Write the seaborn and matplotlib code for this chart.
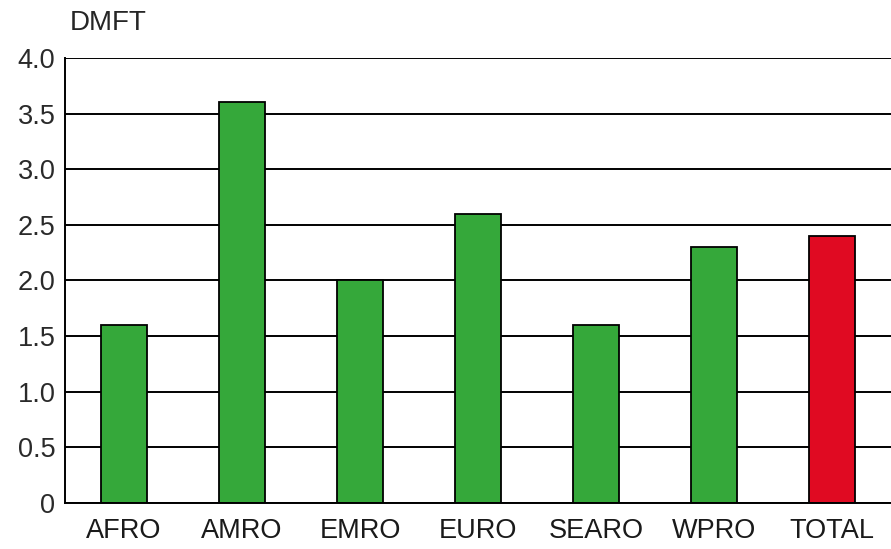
import numpy as np
import pandas as pd
import matplotlib
matplotlib.use("Agg")
import matplotlib.pyplot as plt
import seaborn as sns

# Dữ liệu
regions = ["AFRO", "AMRO", "EMRO", "EURO", "SEARO", "WPRO", "TOTAL"]
dmft = [1.6, 3.6, 2.0, 2.6, 1.6, 2.3, 2.4]
bar_colors = ["#35A83A"] * 6 + ["#E00A22"]
y_ticks = [0, 0.5, 1.0, 1.5, 2.0, 2.5, 3.0, 3.5, 4.0]
y_labels = ["0", "0.5", "1.0", "1.5", "2.0", "2.5", "3.0", "3.5", "4.0"]

df = pd.DataFrame({"Region": regions, "DMFT": dmft})

sns.set_style("white")
plt.rcParams["font.family"] = ["Liberation Sans", "DejaVu Sans"]

fig = plt.figure(figsize=(8.91, 5.49), dpi=100)
ax = fig.add_axes([0.073, 0.0838, 0.927, 0.8106])

ax.set_axisbelow(True)
for y in y_ticks:
    ax.axhline(y, color="black", lw=1.4, zorder=0)

sns.barplot(data=df, x="Region", y="DMFT", hue="Region", palette=bar_colors,
            legend=False, width=0.39, edgecolor="black", linewidth=1.3,
            saturation=1, ax=ax, zorder=2)

ax.set_xlim(-0.5, 6.5)
ax.set_ylim(0, 4.0)
ax.set_yticks(y_ticks)
ax.set_yticklabels(y_labels, fontsize=19.5, color="#2a2a2a")
ax.set_xticks(range(len(regions)))
ax.set_xticklabels(regions, fontsize=19.5, color="#1a1a1a")
ax.set_xticks(np.arange(-0.5, 6.6, 1), minor=True)
ax.tick_params(axis="x", which="major", length=0, pad=11)
ax.tick_params(axis="x", which="minor", length=8, width=1.4, color="black", direction="out")
ax.tick_params(axis="y", length=6, width=1.4, color="black", direction="out", pad=1)
ax.set_xlabel("")
ax.set_ylabel("")

for side in ["top", "right"]:
    ax.spines[side].set_visible(False)
for side in ["left", "bottom"]:
    ax.spines[side].set_color("black")
    ax.spines[side].set_linewidth(1.4)

fig.text(0.078, 0.958, "DMFT", fontsize=20, va="center", ha="left")

fig.savefig("out.png", dpi=100)
